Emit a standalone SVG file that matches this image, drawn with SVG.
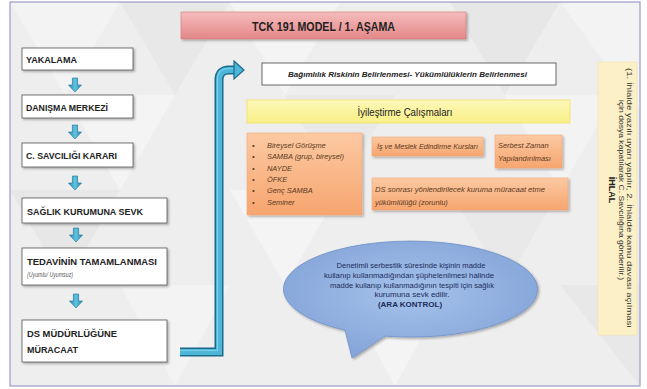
<svg xmlns="http://www.w3.org/2000/svg" width="647" height="389" viewBox="0 0 647 389">
<defs>
  <linearGradient id="gTitle" x1="0" y1="0" x2="0" y2="1"><stop offset="0" stop-color="#f6bcbc"/><stop offset="1" stop-color="#e38787"/></linearGradient>
  <linearGradient id="gOrange" x1="0" y1="0" x2="0" y2="1"><stop offset="0" stop-color="#fcc9a2"/><stop offset="1" stop-color="#f6a56f"/></linearGradient>
  <linearGradient id="gYellow" x1="0" y1="0" x2="0" y2="1"><stop offset="0" stop-color="#fdf8b8"/><stop offset="1" stop-color="#f9ef86"/></linearGradient>
  <linearGradient id="gArrow" x1="0" y1="0" x2="1" y2="0"><stop offset="0" stop-color="#2a88ae"/><stop offset="0.5" stop-color="#5ec4e3"/><stop offset="1" stop-color="#2a88ae"/></linearGradient>
  <radialGradient id="gBubble" cx="0.5" cy="0.45" r="0.6"><stop offset="0" stop-color="#a5c2ea"/><stop offset="1" stop-color="#83a3d8"/></radialGradient>
  <filter id="sh" x="-10%" y="-20%" width="130%" height="160%"><feDropShadow dx="1.5" dy="1.5" stdDeviation="1.2" flood-color="#000" flood-opacity="0.3"/></filter>
  <path id="dArrow" d="M-2.6,0 H2.6 V7 H6.5 L0,14 L-6.5,7 H-2.6 Z"/>
  <style>
    .box{fill:#fff;stroke:#555;stroke-width:0.8}
    .lbl{font-family:"Liberation Sans",Arial,sans-serif;font-weight:bold;font-size:9.5px;fill:#222}
    .it{font-family:"Liberation Sans",Arial,sans-serif;font-style:italic;font-size:7.4px;fill:#5a3a20}
    .org{fill:url(#gOrange);stroke:#f2a878;stroke-width:0.6}
    .darr{fill:url(#gArrow);stroke:#1f6f90;stroke-width:0.6}
    .bub{font-family:"Liberation Sans",Arial,sans-serif;font-size:8px;fill:#1c2c5c}
    .ih{font-family:"Liberation Sans",Arial,sans-serif;font-size:7.6px;fill:#333}
  </style>
</defs>

<!-- background -->
<rect x="0" y="0" width="647" height="389" fill="#ffffff"/>
<rect x="10" y="2" width="630" height="384" fill="#eeeeee"/>
<g opacity="0.55">
  <polygon points="10,2 120,2 65,95" fill="#f8f8f8"/>
  <polygon points="120,2 230,2 175,95" fill="#e4e4e4"/>
  <polygon points="230,2 340,2 285,95" fill="#f9f9f9"/>
  <polygon points="450,2 560,2 505,95" fill="#e2e2e2"/>
  <polygon points="560,2 640,2 640,110" fill="#f8f8f8"/>
  <polygon points="65,95 175,95 120,190" fill="#f9f9f9"/>
  <polygon points="285,95 395,95 340,190" fill="#e5e5e5"/>
  <polygon points="505,95 615,95 560,190" fill="#f8f8f8"/>
  <polygon points="10,190 120,190 65,285" fill="#e3e3e3"/>
  <polygon points="230,190 340,190 285,285" fill="#f9f9f9"/>
  <polygon points="450,190 560,190 505,285" fill="#e5e5e5"/>
  <polygon points="120,285 230,285 175,386" fill="#f8f8f8"/>
  <polygon points="340,285 450,285 395,386" fill="#f9f9f9"/>
  <polygon points="560,285 640,285 640,386" fill="#e4e4e4"/>
</g>
<rect x="10" y="2" width="630" height="384" fill="none" stroke="#9c9ccc" stroke-width="1.2"/>

<!-- title -->
<g id="title">
  <rect x="181" y="12" width="285" height="27" fill="url(#gTitle)" stroke="#cf7a7a" stroke-width="0.6" filter="url(#sh)"/>
  <text x="323.5" y="31" text-anchor="middle" font-family="Liberation Sans, Arial, sans-serif" font-weight="bold" font-size="13px" fill="#222" textLength="143" lengthAdjust="spacingAndGlyphs">TCK 191 MODEL / 1. AŞAMA</text>
</g>

<!-- left flow -->
<g id="yakalama">
  <rect class="box" x="22" y="48" width="111" height="22" filter="url(#sh)"/>
  <text class="lbl" x="26" y="63" textLength="51" lengthAdjust="spacingAndGlyphs">YAKALAMA</text>
</g>
<g id="danisma">
  <rect class="box" x="22" y="95" width="111" height="23" filter="url(#sh)"/>
  <text class="lbl" x="26" y="110.5" textLength="82" lengthAdjust="spacingAndGlyphs">DANIŞMA MERKEZİ</text>
</g>
<g id="savcilik">
  <rect class="box" x="22" y="143" width="111" height="24" filter="url(#sh)"/>
  <text class="lbl" x="26" y="159" textLength="91" lengthAdjust="spacingAndGlyphs">C. SAVCILIĞI KARARI</text>
</g>
<g id="saglik">
  <rect class="box" x="22" y="198" width="145" height="25" filter="url(#sh)"/>
  <text class="lbl" x="27" y="214.5" textLength="116" lengthAdjust="spacingAndGlyphs">SAĞLIK KURUMUNA SEVK</text>
</g>
<g id="tedavi">
  <rect class="box" x="22" y="248" width="145" height="37" filter="url(#sh)"/>
  <text class="lbl" x="27" y="265" textLength="130" lengthAdjust="spacingAndGlyphs">TEDAVİNİN TAMAMLANMASI</text>
  <text x="27" y="277" font-family="Liberation Sans, Arial, sans-serif" font-style="italic" font-size="6.5px" fill="#555" textLength="46" lengthAdjust="spacingAndGlyphs">(Uyumlu/ Uyumsuz)</text>
</g>
<g id="ds">
  <rect class="box" x="22" y="320" width="145" height="42" filter="url(#sh)"/>
  <text class="lbl" x="27" y="337" textLength="90" lengthAdjust="spacingAndGlyphs">DS MÜDÜRLÜĞÜNE</text>
  <text class="lbl" x="27" y="353" textLength="51" lengthAdjust="spacingAndGlyphs">MÜRACAAT</text>
</g>

<!-- connectors -->
<g id="connectors">
  <use href="#dArrow" class="darr" x="75" y="78"/>
  <use href="#dArrow" class="darr" x="75" y="125"/>
  <use href="#dArrow" class="darr" x="75" y="176"/>
  <use href="#dArrow" class="darr" x="76" y="228"/>
  <use href="#dArrow" class="darr" x="76" y="294"/>
  <path d="M180,352 H219 V80 Q219,70 229,70 H235" fill="none" stroke="#1d6a8a" stroke-width="9"/>
  <path d="M180,352 H219 V80 Q219,70 229,70 H236" fill="none" stroke="#4cb6d8" stroke-width="6"/>
  <path d="M180,350.5 H217.5 V80 Q217.5,68.5 229,68.5 H236" fill="none" stroke="#8ad6ee" stroke-width="1.2" opacity="0.8"/>
  <polygon points="234,61 244,70 234,79" fill="#4cb6d8" stroke="#1d6a8a" stroke-width="1.2"/>
</g>

<!-- right content -->
<g id="bagimlilik">
  <rect x="262" y="63" width="294" height="22" fill="#fff" stroke="#444" stroke-width="0.8"/>
  <text x="407.5" y="77" text-anchor="middle" font-family="Liberation Sans, Arial, sans-serif" font-style="italic" font-weight="bold" font-size="8px" fill="#222" textLength="239" lengthAdjust="spacingAndGlyphs">Bağımlılık  Riskinin Belirlenmesi- Yükümlülüklerin Belirlenmesi</text>
</g>
<g id="iyilestirme">
  <rect x="247" y="100" width="323" height="23" fill="url(#gYellow)" stroke="#efe068" stroke-width="0.8"/>
  <text x="405" y="115.5" text-anchor="middle" font-family="Liberation Sans, Arial, sans-serif" font-size="10.5px" fill="#222" textLength="95" lengthAdjust="spacingAndGlyphs">İyileştirme Çalışmaları</text>
</g>
<g id="liste">
  <rect class="org" x="247" y="133" width="115" height="82" filter="url(#sh)"/>
  <g class="it">
    <text x="252" y="148">•</text><text x="267" y="148">Bireysel Görüşme</text>
    <text x="252" y="159.3">•</text><text x="267" y="159.3">SAMBA (grup, bireysel)</text>
    <text x="252" y="170.6">•</text><text x="267" y="170.6">NAYDE</text>
    <text x="252" y="181.9">•</text><text x="267" y="181.9">ÖFKE</text>
    <text x="252" y="193.2">•</text><text x="267" y="193.2">Genç SAMBA</text>
    <text x="252" y="204.5">•</text><text x="267" y="204.5">Seminer</text>
  </g>
</g>
<g id="kurslar">
  <rect class="org" x="372" y="137" width="111" height="19" filter="url(#sh)"/>
  <text class="it" x="377" y="149" textLength="101" lengthAdjust="spacingAndGlyphs">İş ve Meslek Edindirme Kursları</text>
</g>
<g id="serbest">
  <rect class="org" x="495" y="135" width="67" height="33" filter="url(#sh)"/>
  <text class="it" x="498" y="148">Serbest Zaman</text>
  <text class="it" x="498" y="160.5">Yapılandırılması</text>
</g>
<g id="yukumluluk">
  <rect class="org" x="372" y="178" width="196" height="32" filter="url(#sh)"/>
  <text class="it" x="375" y="192" textLength="170" lengthAdjust="spacingAndGlyphs">DS sonrası yönlendirilecek kuruma müracaat etme</text>
  <text class="it" x="375" y="204.5">yükümlülüğü (zorunlu)</text>
</g>

<!-- speech bubble -->
<g id="arakontrol">
  <path d="M385,336.1 A127,48 0 1 0 345,330.2 L352,358 Z" fill="url(#gBubble)" stroke="#6d8fc6" stroke-width="0.8" filter="url(#sh)"/>
  <g class="bub" text-anchor="middle">
    <text x="411" y="268" textLength="149" lengthAdjust="spacingAndGlyphs">Denetimli serbestlik süresinde kişinin madde</text>
    <text x="409" y="278" textLength="170" lengthAdjust="spacingAndGlyphs">kullanıp kullanmadığından şüphelenilmesi halinde</text>
    <text x="412" y="288" textLength="164" lengthAdjust="spacingAndGlyphs">madde kullanıp kullanmadığının tespiti için sağlık</text>
    <text x="412" y="297">kurumuna sevk edilir.</text>
    <text x="410" y="306.5" font-weight="bold">(ARA KONTROL)</text>
  </g>
</g>

<!-- ihlal -->
<g id="ihlal">
  <rect x="598" y="62" width="39" height="273" fill="#fcf0c6" stroke="#f2e2a8" stroke-width="0.6"/>
  <text class="ih" transform="translate(626.5,68) rotate(90)" textLength="260" lengthAdjust="spacingAndGlyphs">(1. İhlalde yazılı uyarı yapılır, 2. İhlalde kamu davası açılması</text>
  <text class="ih" transform="translate(618.5,100) rotate(90)" textLength="180" lengthAdjust="spacingAndGlyphs">için dosya kapatılarak C. Savcılığına gönderilir.)</text>
  <text transform="translate(609,190) rotate(90)" text-anchor="middle" font-family="Liberation Sans, Arial, sans-serif" font-weight="bold" font-size="9px" fill="#222">İHLAL</text>
</g>
</svg>
